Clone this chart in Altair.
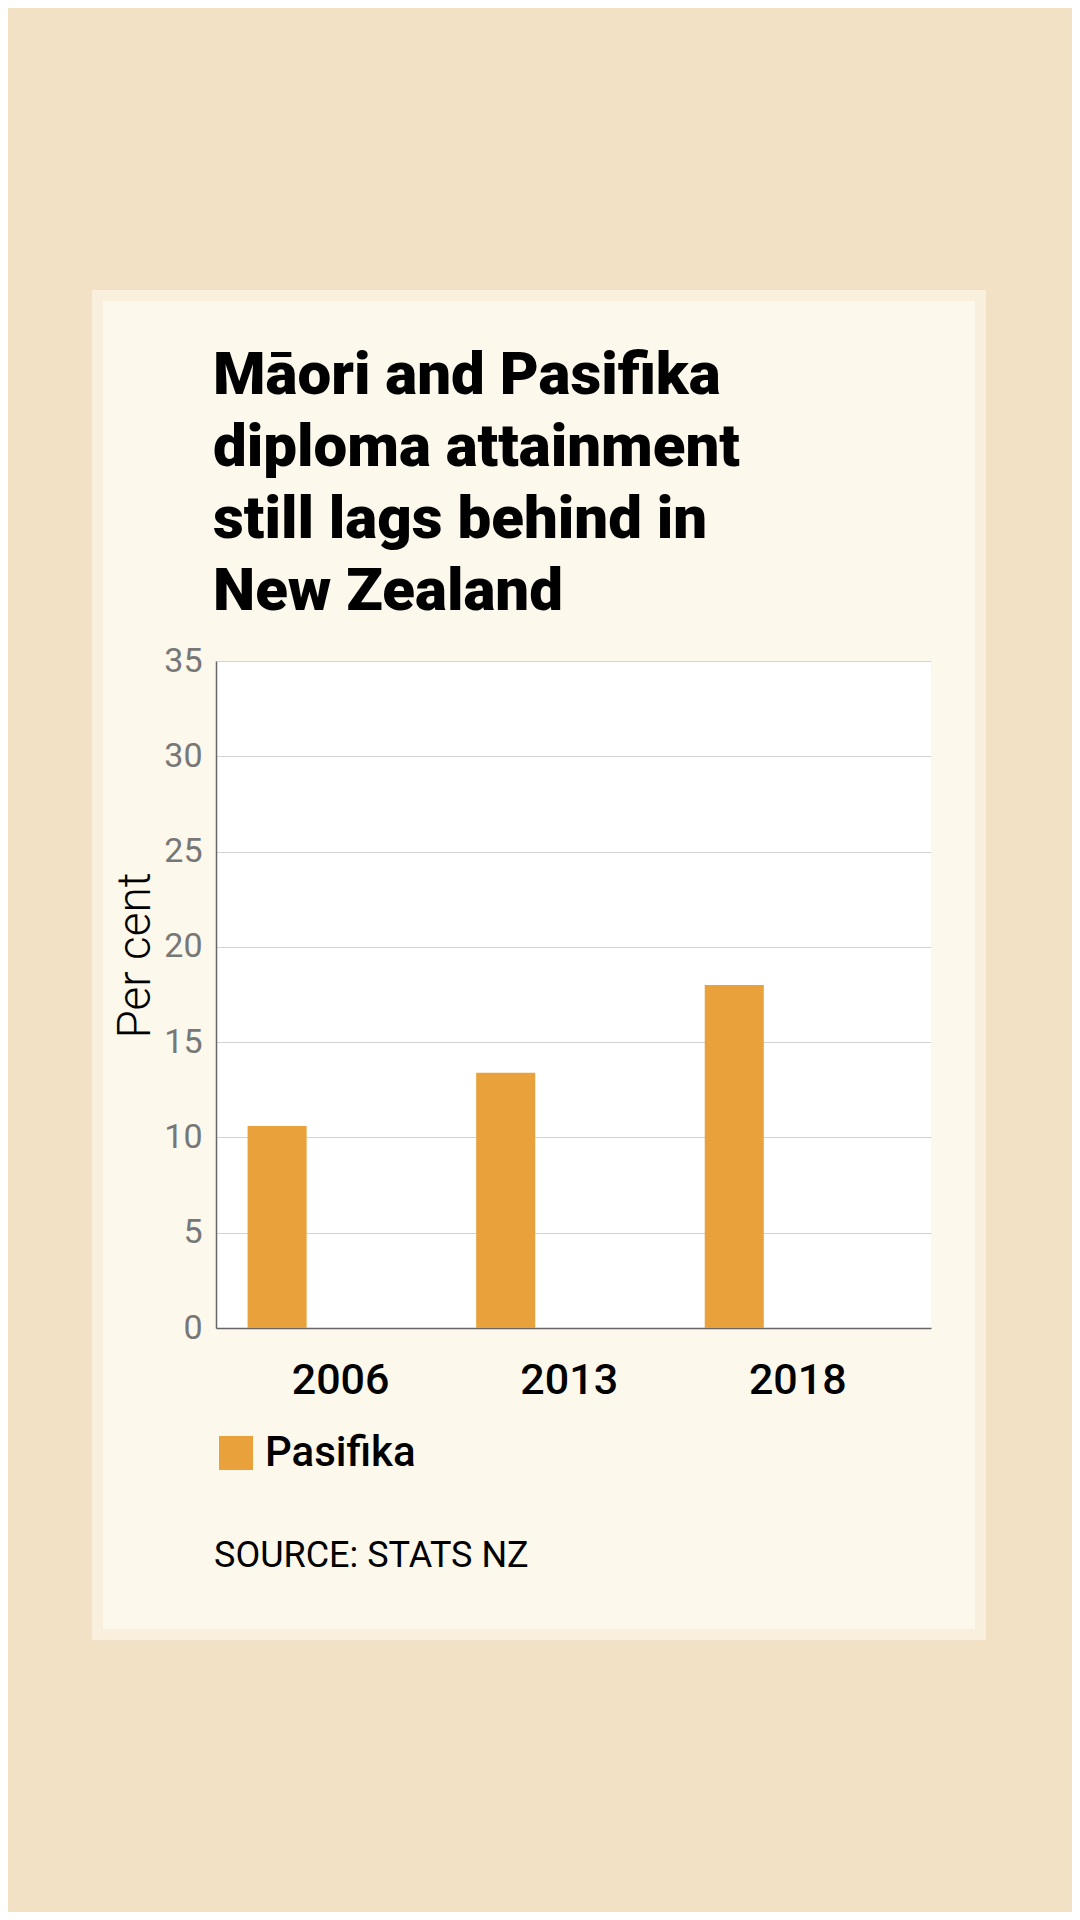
import altair as alt
import pandas as pd

years = ["2006", "2013", "2018"]
pasifika = [10.6, 13.4, 18.0]
series_order = ["Pasifika", "Māori"]
y_ticks = [0, 5, 10, 15, 20, 25, 30, 35]
title_lines = ["Māori and Pasifika", "diploma attainment", "still lags behind in", "New Zealand"]
source_text = "SOURCE: STATS NZ"

BG = "#F2E1C4"
PAPER = "#FCF8EC"
BAR = "#E9A23B"
FONT = "Roboto"

df = pd.DataFrame({"year": years, "value": pasifika, "series": ["Pasifika"] * len(years)})

W, H = 715, 667

bars = alt.Chart(df).mark_bar(color=BAR).encode(
    x=alt.X(
        "year:N",
        sort=years,
        scale=alt.Scale(paddingInner=0.186, paddingOuter=0.157, align=0.44),
        axis=alt.Axis(
            title=None, labelAngle=0, labelFont=FONT, labelFontSize=43, labelFontWeight=500,
            labelColor="#000000", ticks=False, labelPadding=31, domainColor="#666666",
            domainWidth=1.5, grid=False,
        ),
    ),
    xOffset=alt.XOffset("series:N", scale=alt.Scale(domain=series_order, paddingInner=0.535, paddingOuter=0)),
    y=alt.Y(
        "value:Q",
        scale=alt.Scale(domain=[0, 35], nice=False),
        axis=alt.Axis(
            values=y_ticks, title="Per cent", titleFont=FONT, titleFontSize=46, titleFontWeight=300,
            titleColor="#000000", titleAngle=270, titleX=-67, titleY=294, titleAlign="center",
            titleBaseline="alphabetic", labelFont=FONT, labelFontSize=34, labelColor="#777777",
            labelPadding=14, ticks=False, domainColor="#666666", domainWidth=1.5,
            gridColor="#D3D3D3", gridWidth=1,
        ),
    ),
    color=alt.Color(
        "series:N",
        scale=alt.Scale(domain=["Pasifika"], range=[BAR]),
        legend=alt.Legend(
            title=None, orient="none", legendX=-1, legendY=771, symbolType="square",
            symbolSize=1156, symbolStrokeWidth=0, labelFont=FONT, labelFontSize=42,
            labelFontWeight=500, labelColor="#000000", labelOffset=8, padding=0,
        ),
    ),
)

title = alt.Chart(pd.DataFrame({"t": ["\n".join(title_lines)]})).mark_text(
    align="left", baseline="top", font=FONT, fontSize=60, fontWeight=900,
    color="#000000", lineBreak="\n", lineHeight=72,
).encode(text="t:N", x=alt.value(-3), y=alt.value(-314))

src = alt.Chart(pd.DataFrame({"t": [source_text]})).mark_text(
    align="left", baseline="alphabetic", font=FONT, fontSize=36, color="#000000"
).encode(text="t:N", x=alt.value(-2), y=alt.value(906))

def strip(x, x2, y, y2, opacity=1.0):
    return alt.Chart(pd.DataFrame({"k": [0]})).mark_rect(color=BG, opacity=opacity).encode(
        x=alt.value(x), x2=alt.value(x2), y=alt.value(y), y2=alt.value(y2)
    )

deco = [
    strip(-216, 864, -661, -371),
    strip(-216, 864, 979, 1251),
    strip(-216, -124, -371, 979),
    strip(770, 864, -371, 979),
    strip(-124, 770, -371, -360, 0.35),
    strip(-124, 770, 968, 979, 0.35),
    strip(-124, -113, -360, 968, 0.35),
    strip(759, 770, -360, 968, 0.35),
]

chart = alt.layer(bars, title, src, *deco).properties(
    width=W,
    height=H,
    autosize=alt.AutoSizeParams(type="none"),
    padding={"left": 208, "top": 653, "right": 141, "bottom": 584},
    background=PAPER,
).configure_view(fill="#FFFFFF", stroke=None)

chart.save("out.html", embed_options={"renderer": "svg", "actions": False})
